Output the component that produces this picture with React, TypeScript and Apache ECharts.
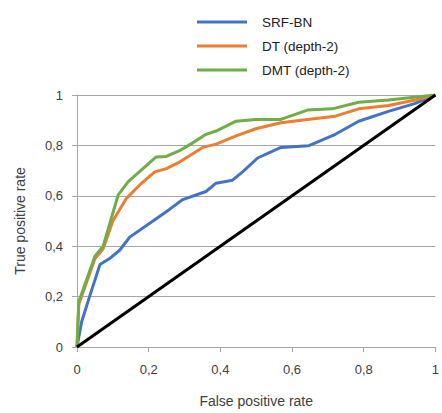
import React, { useEffect, useRef } from "react";
import * as echarts from "echarts";

const seriesNames = ["SRF-BN", "DT (depth-2)", "DMT (depth-2)"];
const seriesColors = ["#4472C4", "#ED7D31", "#70AD47"];

const srfBn: [number, number][] = [
  [0, 0], [0.013, 0.1], [0.035, 0.2], [0.064, 0.327], [0.09, 0.35], [0.119, 0.384],
  [0.147, 0.436], [0.212, 0.5], [0.258, 0.546], [0.295, 0.585], [0.36, 0.617],
  [0.388, 0.65], [0.434, 0.662], [0.462, 0.695], [0.504, 0.75], [0.569, 0.792],
  [0.647, 0.799], [0.721, 0.844], [0.786, 0.896], [0.869, 0.935], [0.944, 0.967], [1, 1],
];
const dtDepth2: [number, number][] = [
  [0, 0], [0.005, 0.17], [0.05, 0.35], [0.073, 0.39], [0.1, 0.5], [0.138, 0.59],
  [0.175, 0.643], [0.217, 0.695], [0.249, 0.708], [0.286, 0.734], [0.351, 0.792],
  [0.388, 0.805], [0.444, 0.838], [0.499, 0.866], [0.569, 0.89], [0.643, 0.903],
  [0.721, 0.916], [0.786, 0.945], [0.869, 0.958], [0.944, 0.98], [1, 1],
];
const dmtDepth2: [number, number][] = [
  [0, 0], [0.005, 0.18], [0.05, 0.36], [0.073, 0.4], [0.115, 0.604], [0.143, 0.656],
  [0.221, 0.754], [0.249, 0.756], [0.286, 0.779], [0.323, 0.81], [0.36, 0.844],
  [0.388, 0.857], [0.444, 0.896], [0.499, 0.903], [0.569, 0.903], [0.643, 0.94],
  [0.712, 0.945], [0.786, 0.971], [0.869, 0.98], [0.934, 0.99], [1, 1],
];
const diagonal: [number, number][] = [[0, 0], [1, 1]];

const fmt = (v: number) => String(Math.round(v * 10) / 10).replace(".", ",");

export default function App() {
  const ref = useRef<HTMLDivElement>(null);
  useEffect(() => {
    if (!ref.current) return;
    const chart = echarts.init(ref.current, undefined, { renderer: "svg" });
    const font = "Liberation Sans";
    const axisLabel = { color: "#404040", fontSize: 13, fontFamily: font, formatter: fmt };
    const allSeries = [srfBn, dtDepth2, dmtDepth2];
    chart.setOption({
      animation: false,
      backgroundColor: "#ffffff",
      legend: {
        data: seriesNames.map((n) => ({ name: n, icon: "rect" })),
        orient: "vertical",
        left: 192,
        top: 10,
        itemWidth: 50,
        itemHeight: 3,
        itemGap: 10,
        textStyle: { fontSize: 13.5, fontFamily: font, color: "#222", padding: [0, 0, 0, 10] },
      },
      grid: { left: 77, right: 5, top: 95, bottom: 61, containLabel: false },
      xAxis: {
        type: "value",
        min: 0,
        max: 1,
        interval: 0.2,
        name: "False positive rate",
        nameLocation: "middle",
        nameGap: 47,
        nameTextStyle: { fontSize: 14, fontFamily: font, color: "#404040" },
        axisLine: { show: true, lineStyle: { color: "#a6a6a6", width: 1 } },
        axisTick: { show: true, length: 5, lineStyle: { color: "#a6a6a6" } },
        splitLine: { show: false },
        axisLabel: { ...axisLabel, margin: 16 },
      },
      yAxis: {
        type: "value",
        min: 0,
        max: 1,
        interval: 0.2,
        name: "True positive rate",
        nameLocation: "middle",
        nameGap: 50,
        nameTextStyle: { fontSize: 14, fontFamily: font, color: "#404040" },
        axisLine: { show: true, lineStyle: { color: "#a6a6a6", width: 1 } },
        axisTick: { show: true, length: 5, lineStyle: { color: "#a6a6a6" } },
        splitLine: { show: true, lineStyle: { color: "#a6a6a6", width: 1 } },
        axisLabel: { ...axisLabel, margin: 14 },
      },
      series: [
        ...allSeries.map((d, i) => ({
          name: seriesNames[i],
          type: "line",
          data: d,
          showSymbol: false,
          symbol: "none",
          lineStyle: { color: seriesColors[i], width: 3 },
          itemStyle: { color: seriesColors[i] },
          z: 3 + i,
        })),
        {
          name: "diagonal",
          type: "line",
          data: diagonal,
          symbol: "none",
          lineStyle: { color: "#000000", width: 3 },
          z: 10,
        },
      ],
    });
    return () => chart.dispose();
  }, []);
  return <div ref={ref} style={{ width: 442, height: 413, position: "absolute", left: 0, top: 0 }} />;
}
